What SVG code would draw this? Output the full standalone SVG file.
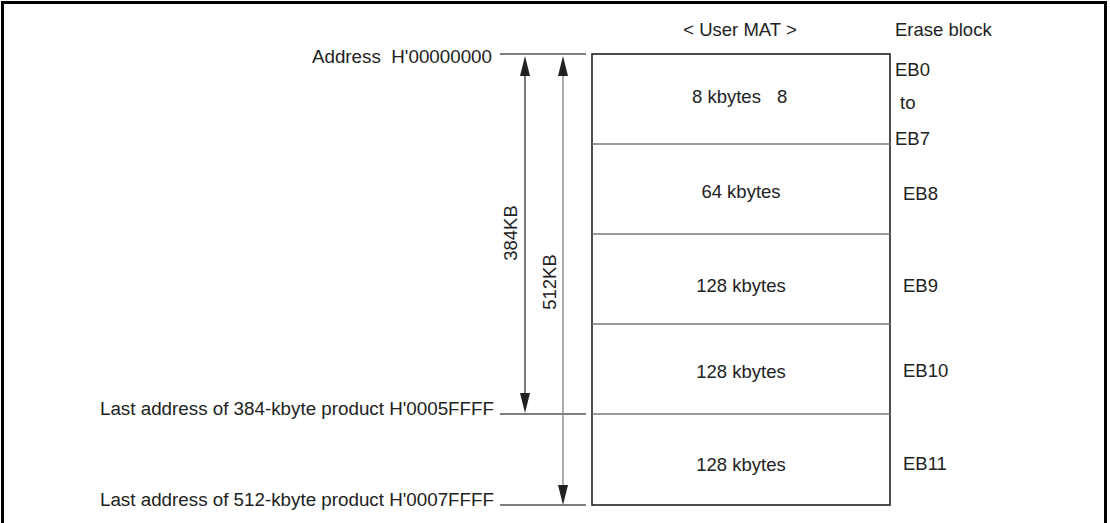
<svg xmlns="http://www.w3.org/2000/svg" width="1110" height="523" viewBox="0 0 1110 523">
<style>
text{font-family:"Liberation Sans",Arial,sans-serif;font-size:18.5px;fill:#222}
.big{font-size:18.8px}
.mid{text-anchor:middle}
.end{text-anchor:end}
.box{fill:none;stroke:#222;stroke-width:1.6}
.div{stroke:#777;stroke-width:1.4}
.tick{stroke:#555;stroke-width:1.4}
.a1{stroke:#444;stroke-width:1.4;fill:none}
.a2{stroke:#888;stroke-width:1.4;fill:none}
.head{fill:#222}
</style>
<rect x="2.5" y="2.5" width="1103" height="540" fill="#fff" stroke="#000" stroke-width="3"/>
<g id="header">
<text class="mid" x="740" y="36">&lt; User MAT &gt;</text>
<text x="895" y="36">Erase block</text>
</g>
<g id="user-mat">
<rect class="box" x="592" y="54" width="298" height="451"/>
<line class="div" x1="592" y1="144" x2="890" y2="144"/>
<line class="div" x1="592" y1="234" x2="890" y2="234"/>
<line class="div" x1="592" y1="324" x2="890" y2="324"/>
<line class="div" x1="592" y1="414" x2="890" y2="414"/>
</g>
<g id="block-eb0-eb7">
<text x="692" y="103">8 kbytes</text>
<text x="777" y="103">8</text>
<text x="895" y="76">EB0</text>
<text x="900" y="109">to</text>
<text x="895" y="145">EB7</text>
</g>
<g id="block-eb8">
<text class="mid" x="741" y="198">64 kbytes</text>
<text x="903" y="200">EB8</text>
</g>
<g id="block-eb9">
<text class="mid" x="741" y="292">128 kbytes</text>
<text x="903" y="292">EB9</text>
</g>
<g id="block-eb10">
<text class="mid" x="741" y="378">128 kbytes</text>
<text x="903" y="377">EB10</text>
</g>
<g id="block-eb11">
<text class="mid" x="741" y="471">128 kbytes</text>
<text x="903" y="470">EB11</text>
</g>
<g id="addresses">
<text class="end big" x="492" y="63" xml:space="preserve">Address  H'00000000</text>
<text class="end big" x="494" y="415">Last address of 384-kbyte product H'0005FFFF</text>
<text class="end big" x="494" y="506">Last address of 512-kbyte product H'0007FFFF</text>
</g>
<g id="connectors">
<line class="tick" x1="500" y1="54" x2="586" y2="54" stroke="#333"/>
<line class="tick" x1="500" y1="414" x2="586" y2="414"/>
<line class="tick" x1="500" y1="505" x2="586" y2="505"/>
<line class="a1" x1="525" y1="70" x2="525" y2="400"/>
<polygon class="head" points="525,56 520,76 530,76"/>
<polygon class="head" points="525,413 520,393 530,393"/>
<line class="a2" x1="563" y1="70" x2="563" y2="492"/>
<polygon class="head" points="563,56 558,76 568,76"/>
<polygon class="head" points="563,505 558,485 568,485"/>
</g>
<g id="size-labels">
<text class="mid" transform="rotate(-90 517 233)" x="517" y="233">384KB</text>
<text class="mid" transform="rotate(-90 556 282)" x="556" y="282">512KB</text>
</g>
</svg>
